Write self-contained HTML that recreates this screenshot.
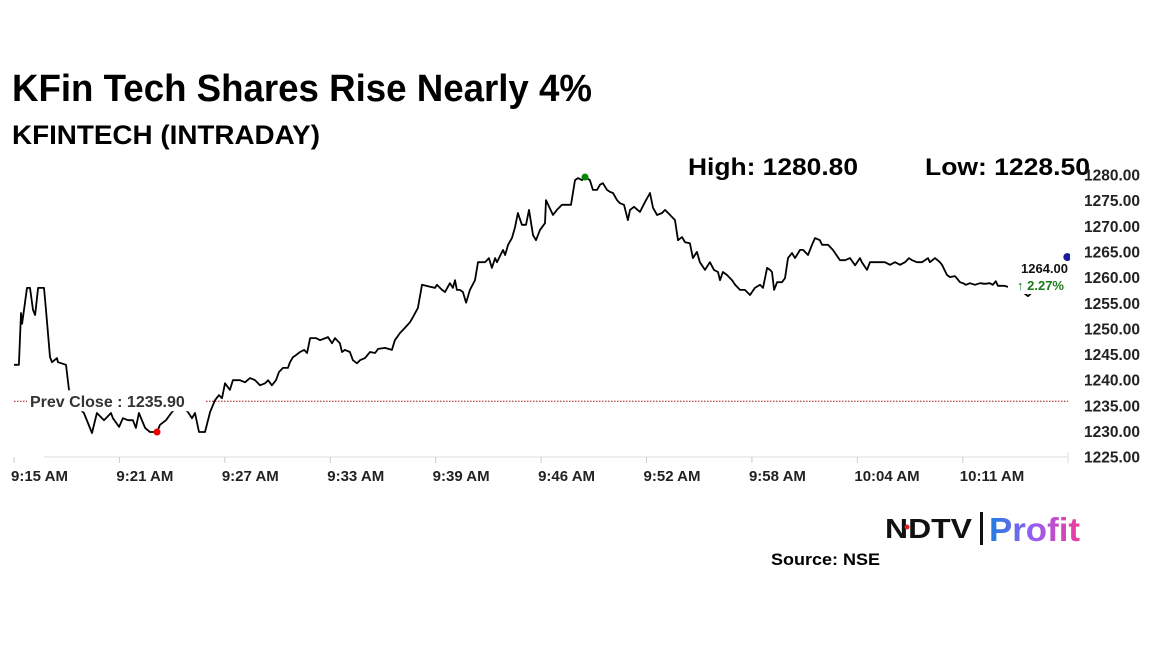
<!DOCTYPE html>
<html><head><meta charset="utf-8"><style>
html,body{margin:0;padding:0;background:#fff;}
svg{display:block;font-family:"Liberation Sans",Arial,sans-serif;}
</style></head><body>
<svg id="chart" width="1152" height="648" viewBox="0 0 1152 648" xmlns="http://www.w3.org/2000/svg">
<defs><linearGradient id="pg" x1="0" x2="1" y1="0" y2="0"><stop offset="0" stop-color="#1e7fe0"/><stop offset="0.5" stop-color="#9a5cf0"/><stop offset="1" stop-color="#f03c9c"/></linearGradient>
<clipPath id="edge"><rect x="0" y="0" width="1070" height="648"/></clipPath></defs>
<text x="12" y="101" font-size="38" font-weight="bold" fill="#000" textLength="580" lengthAdjust="spacingAndGlyphs">KFin Tech Shares Rise Nearly 4%</text>
<text x="12" y="144" font-size="27" font-weight="bold" fill="#000" textLength="308" lengthAdjust="spacingAndGlyphs">KFINTECH (INTRADAY)</text>
<text x="688" y="175" font-size="24" font-weight="bold" fill="#000" textLength="170" lengthAdjust="spacingAndGlyphs">High: 1280.80</text>
<text x="925" y="175" font-size="24" font-weight="bold" fill="#000" textLength="165" lengthAdjust="spacingAndGlyphs">Low: 1228.50</text>
<g id="axes"></g>
<g id="plot"></g>
<g id="labels"></g>
<g>
<text x="885" y="538" font-size="28" font-weight="900" fill="#111" textLength="87" lengthAdjust="spacingAndGlyphs">NDTV</text>
<circle cx="907" cy="527" r="2.5" fill="#e02020"/>
<rect x="980" y="512" width="3" height="33" fill="#111"/>
<text x="989" y="541" font-size="33" font-weight="bold" fill="url(#pg)" textLength="91" lengthAdjust="spacingAndGlyphs">Profit</text>
</g>
<text x="771" y="565" font-size="17" font-weight="bold" fill="#000" textLength="109" lengthAdjust="spacingAndGlyphs">Source: NSE</text>
</svg>
<script>
const times=[0,.28,.40,.46,.74,.91,1.08,1.20,1.37,1.71,1.82,2.05,2.16,2.45,2.50,2.96,3.13,3.53,3.98,4.44,4.72,5.12,5.52,5.63,5.98,6.20,6.49,6.77,6.94,7.11,7.46,7.74,8.14,8.31,8.65,8.99,9.45,9.90,10.13,10.30,10.53,10.87,11.16,11.44,11.67,11.84,12.01,12.29,12.46,12.86,13.15,13.43,13.72,14.00,14.29,14.46,14.68,14.91,15.08,15.31,15.59,15.71,15.88,16.05,16.28,16.51,16.68,16.85,17.19,17.42,17.87,18.10,18.27,18.55,18.67,18.84,19.12,19.29,19.52,19.69,19.98,20.26,20.55,20.72,21.11,21.51,21.68,21.97,22.25,22.54,22.71,22.99,23.22,23.68,23.96,24.07,24.36,24.53,24.81,24.98,25.10,25.21,25.38,25.55,25.73,25.95,26.24,26.41,26.81,27.03,27.20,27.38,27.49,27.83,27.95,28.12,28.34,28.51,28.68,28.91,29.14,29.31,29.54,29.71,29.94,30.22,30.28,30.68,30.90,31.19,31.42,31.70,31.93,32.10,32.33,32.50,32.78,32.95,33.18,33.35,33.52,33.75,33.92,34.09,34.32,34.49,34.72,34.94,35.06,35.29,35.63,35.91,36.20,36.37,36.60,36.88,37.05,37.34,37.62,37.79,38.02,38.19,38.47,38.64,38.87,39.04,39.33,39.61,39.84,40.07,40.18,40.35,40.58,40.87,41.04,41.32,41.60,41.89,42.17,42.46,42.63,42.86,43.03,43.14,43.26,43.43,43.71,43.88,44.05,44.28,44.45,44.74,44.91,45.19,45.42,45.59,45.87,45.99,46.33,46.61,47.01,47.30,47.58,47.87,48.15,48.26,48.55,48.72,49.17,49.57,49.86,50.14,50.43,50.71,50.94,51.11,51.39,51.68,52.02,52.13,52.42,52.70,52.82,53.10,53.27,53.56,53.84,54.01,54.18,54.41,54.69,54.98,55.26,55.54,55.71,55.88,56.00,56.34,56.80,57.25,57.71,58.11,58.50,58.85,59.25];
const prices=[1243.0,1243.0,1253.1,1251.0,1258.0,1258.0,1253.7,1252.7,1258.0,1258.0,1253.7,1244.5,1243.5,1244.3,1243.5,1243.0,1238.1,1235.2,1233.6,1229.7,1233.6,1232.2,1233.6,1232.6,1230.9,1232.6,1232.2,1232.2,1230.7,1233.6,1230.7,1229.9,1229.9,1231.3,1232.2,1233.8,1235.2,1233.8,1232.6,1233.6,1229.9,1229.9,1233.8,1236.1,1237.1,1236.5,1239.4,1238.1,1240.0,1240.0,1239.6,1240.4,1240.0,1239.0,1239.4,1240.0,1239.0,1240.0,1241.6,1242.4,1242.4,1243.5,1244.5,1244.9,1245.5,1245.9,1245.3,1248.2,1248.2,1247.8,1248.4,1247.2,1248.2,1247.2,1245.5,1245.9,1245.5,1243.9,1243.3,1243.9,1244.3,1245.5,1245.3,1246.1,1246.3,1245.9,1247.8,1249.2,1250.2,1251.3,1252.3,1254.1,1258.6,1258.2,1258.0,1258.6,1257.6,1257.2,1258.9,1258.0,1259.5,1257.6,1257.6,1257.2,1255.1,1257.6,1259.5,1263.0,1263.0,1263.8,1261.9,1263.8,1263.0,1265.4,1264.4,1266.4,1267.7,1269.7,1272.6,1270.3,1270.3,1273.2,1268.3,1267.3,1269.3,1270.6,1275.1,1272.2,1273.2,1274.2,1274.2,1274.2,1279.0,1279.4,1279.0,1279.6,1279.0,1277.1,1277.1,1278.1,1278.4,1277.1,1276.7,1276.5,1275.1,1274.5,1274.2,1271.2,1273.2,1273.8,1272.8,1274.7,1276.5,1273.6,1272.2,1272.6,1273.2,1272.2,1271.2,1267.3,1267.9,1266.9,1266.7,1263.8,1265.0,1263.0,1261.5,1263.0,1261.5,1261.1,1259.5,1261.1,1260.5,1259.5,1258.6,1257.6,1257.6,1256.6,1258.0,1258.6,1258.0,1261.9,1261.5,1261.1,1257.6,1259.1,1259.1,1259.9,1263.8,1264.8,1263.8,1265.4,1265.4,1264.4,1266.4,1267.7,1267.3,1266.4,1266.4,1265.4,1263.4,1263.4,1263.8,1262.4,1263.8,1263.0,1261.5,1263.0,1263.0,1263.0,1262.5,1263.0,1262.5,1263.0,1263.8,1263.4,1263.0,1263.0,1263.8,1263.0,1263.8,1263.0,1262.5,1260.5,1260.1,1260.3,1259.1,1258.9,1258.6,1258.9,1258.6,1258.9,1258.8,1258.9,1258.6,1259.3,1258.4,1258.4,1258.0,1257.6,1256.4,1257.6,1257.2,1257.4,1258.6];
const yTicks=[1225,1230,1235,1240,1245,1250,1255,1260,1265,1270,1275,1280];
const xTickLabels=["9:15 AM","9:21 AM","9:27 AM","9:33 AM","9:39 AM","9:46 AM","9:52 AM","9:58 AM","10:04 AM","10:11 AM"];
const xTickMinutes=[0,6,12,18,24,30,36,42,48,54];
const prevClose=1235.90;
const lastPrice=1264.00, lastTime=59.95, lowPrice=1229.9, lowTime=8.14, highPrice=1279.6, highTime=32.5;
const changePct="2.27%";

const NS="http://www.w3.org/2000/svg";
const X=m=>14+m*17.57;
const Y=v=>175+(1280-v)*5.13;
function mk(tag,attrs,parent,text){const e=document.createElementNS(NS,tag);for(const k in attrs)e.setAttribute(k,attrs[k]);if(text!==undefined)e.textContent=text;parent.appendChild(e);return e;}
const axes=document.getElementById('axes'),plot=document.getElementById('plot'),labels=document.getElementById('labels');

const xl=mk('line',{x1:44,x2:1068,y1:457,y2:457,stroke:'#ddd','stroke-width':1},axes);


xTickMinutes.forEach((m,i)=>{
  const t=mk('line',{x1:X(m),x2:X(m),y1:457,y2:463,stroke:'#ccc'},axes);
  
  
  const l=mk('text',{x:X(m)-3,y:481,'font-size':15,'font-weight':'bold',fill:'#222'},axes,xTickLabels[i]);
  
  
});
const et=mk('line',{x1:1068,x2:1068,y1:452,y2:463,stroke:'#ddd'},axes);


yTicks.forEach(v=>{
  const l=mk('text',{x:1140,y:Y(v)+5.5,'font-size':15.5,'font-weight':'bold',fill:'#222','text-anchor':'end'},axes,v.toFixed(2));
  
  
});
const pc=mk('line',{x1:14,x2:1068,y1:Y(prevClose),y2:Y(prevClose),stroke:'#a01010','stroke-width':1,'stroke-dasharray':'1.5 1.5'},axes);



let d='';times.forEach((t,i)=>{d+=(i?'L':'M')+X(t).toFixed(1)+' '+Y(prices[i]).toFixed(1);});
const path=mk('path',{d:d,fill:'none',stroke:'#000','stroke-width':1.8,'stroke-linejoin':'round'},plot);


const lo=mk('circle',{cx:X(lowTime),cy:Y(lowPrice),r:3.5,fill:'#e00'},plot);


const hi=mk('circle',{cx:X(highTime),cy:Y(highPrice),r:3.5,fill:'#080'},plot);



const pcb=mk('rect',{x:27,y:Y(prevClose)-11,width:178,height:21,fill:'#fff'},labels);


const pct=mk('text',{x:30,y:Y(prevClose)+6,'font-size':16,'font-weight':'bold',fill:'#333'},labels,'Prev Close : '+prevClose.toFixed(2));


const lb=mk('rect',{x:1008,y:262,width:60,height:32,fill:'#fff'},labels);


const lp=mk('text',{x:1068,y:273,'font-size':13,'font-weight':'bold',fill:'#111','text-anchor':'end'},labels,lastPrice.toFixed(2));


const cp=mk('text',{x:1064,y:290,'font-size':13,'font-weight':'bold',fill:'#1a7a1a','text-anchor':'end'},labels,'\u2191 '+changePct);


const ld=mk('circle',{cx:X(lastTime),cy:Y(lastPrice),r:4,fill:'#1a1aa0','clip-path':'url(#edge)'},labels);


</script>
</body></html>
